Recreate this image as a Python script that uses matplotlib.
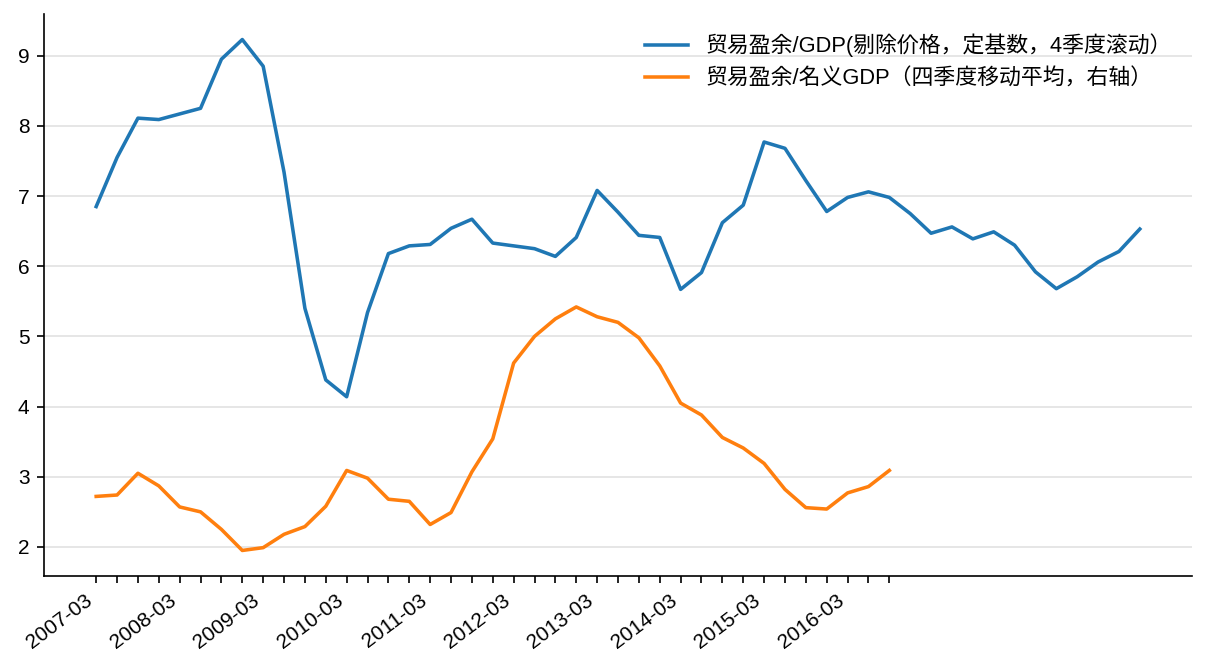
import matplotlib
matplotlib.use("Agg")
import matplotlib.pyplot as plt
import numpy as np

plt.rcParams['font.family'] = ['Liberation Sans', 'Noto Sans CJK KR', 'DejaVu Sans']
plt.rcParams['axes.unicode_minus'] = False

# Quarterly dates for the x ticks (orange series range)
quarters = [f"{y}-{m:02d}" for y in range(2007, 2017) for m in (3, 6, 9, 12)][:39]

real_trade_gdp = [6.85, 7.55, 8.11, 8.09, 8.17, 8.25, 8.95, 9.23, 8.85, 7.34,
                  5.40, 4.38, 4.14, 5.34, 6.18, 6.29, 6.31, 6.54, 6.67, 6.33,
                  6.29, 6.25, 6.14, 6.41, 7.08, 6.77, 6.44, 6.41, 5.67, 5.91,
                  6.62, 6.87, 7.77, 7.68, 7.22, 6.78, 6.98, 7.06, 6.98, 6.75,
                  6.47, 6.56, 6.39, 6.49, 6.30, 5.92, 5.68, 5.85, 6.06, 6.21,
                  6.53]

nominal_trade_gdp = [2.72, 2.74, 3.05, 2.87, 2.57, 2.50, 2.25, 1.95, 1.99, 2.18,
                     2.29, 2.58, 3.09, 2.98, 2.68, 2.65, 2.32, 2.49, 3.07, 3.54,
                     4.62, 5.00, 5.25, 5.42, 5.28, 5.20, 4.98, 4.58, 4.05, 3.88,
                     3.56, 3.41, 3.19, 2.82, 2.56, 2.54, 2.77, 2.86, 3.09]

label_real = "贸易盈余/GDP(剔除价格，定基数，4季度滚动）"
label_nom = "贸易盈余/名义GDP（四季度移动平均，右轴）"

fig = plt.figure(figsize=(1208 / 150, 672 / 150), dpi=150)
ax = fig.add_axes([44 / 1208, 1 - 576 / 672, (1192 - 44) / 1208, (576 - 14) / 672])

ax.plot(np.arange(len(real_trade_gdp)), real_trade_gdp, color='#1f77b4', lw=1.7, label=label_real)
ax.plot(np.arange(len(nominal_trade_gdp)), nominal_trade_gdp, color='#ff7f0e', lw=1.7, label=label_nom)

ax.set_xticks(np.arange(len(quarters)))
ax.set_xticklabels([q if i % 4 == 0 else "" for i, q in enumerate(quarters)],
                   rotation=37, ha='right', fontsize=10)
ax.tick_params(axis='y', labelsize=10)
ax.set_yticks(range(2, 10))

ax.yaxis.grid(True, color='#e5e5e5', lw=0.9)
ax.set_axisbelow(True)
for s in ('top', 'right'):
    ax.spines[s].set_visible(False)

ax.legend(loc='upper right', frameon=False, fontsize=10.5)

fig.savefig("out.png", dpi=150)
